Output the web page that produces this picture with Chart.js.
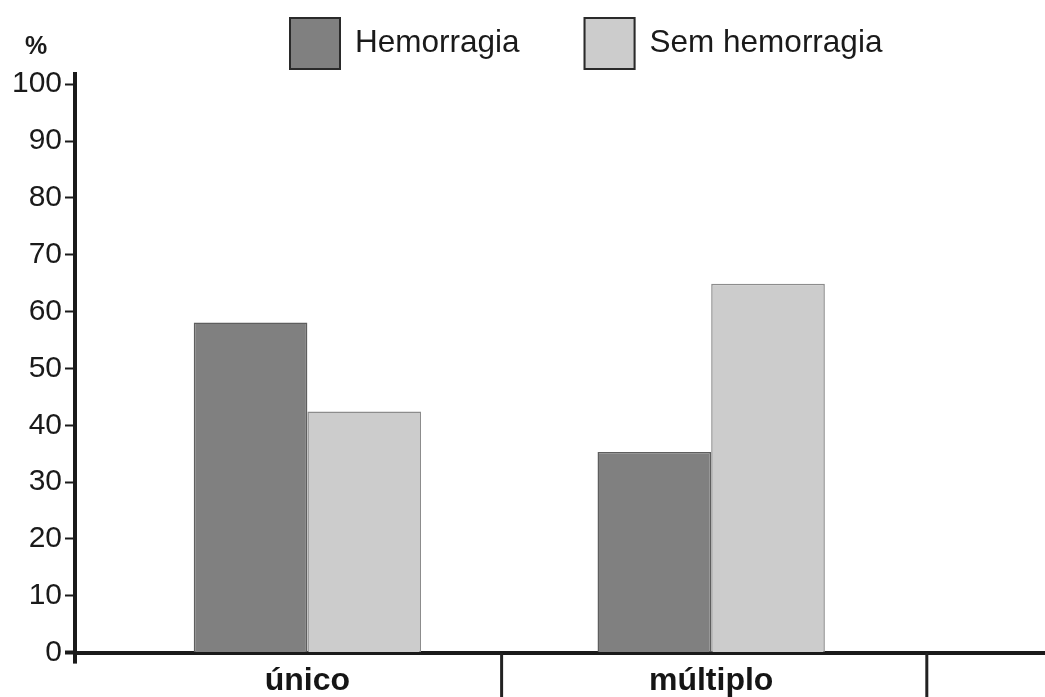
<!DOCTYPE html>
<html>
<head>
<meta charset="utf-8">
<script src="https://cdn.jsdelivr.net/npm/chart.js@4.4.1/dist/chart.umd.min.js"></script>
<style>
  html, body { margin: 0; padding: 0; background: #ffffff; }
  #wrap { width: 1045px; height: 697px; }
</style>
</head>
<body>
<div id="wrap"><canvas id="c" width="1045" height="697"></canvas></div>
<script>
// ---- data ----
const categories = ['único', 'múltiplo'];
const seriesNames = ['Hemorragia', 'Sem hemorragia'];
const hemorragia = [58.1, 35.3];
const semHemorragia = [42.4, 64.9];
const yTickValues = [0, 10, 20, 30, 40, 50, 60, 70, 80, 90, 100];
const yAxisUnit = '%';
// category group boundaries (in category-index units)
const categoryDividers = [1.481, 2.534];

const FONT = "'Liberation Sans', Arial, Helvetica, sans-serif";

const seriesStyle = [
  { fill: '#808080', border: '#5e5e5e' },
  { fill: '#cccccc', border: '#8c8c8c' }
];

const toPoints = arr => arr.map((v, i) => ({ x: i + 1, y: v }));

const decorPlugin = {
  id: 'decor',
  afterDraw(chart) {
    const ctx = chart.ctx;
    const xs = chart.scales.x;
    const area = chart.chartArea;
    ctx.save();
    // category dividers below the axis
    ctx.strokeStyle = '#222222';
    ctx.lineWidth = 3;
    categoryDividers.forEach(d => {
      const px = xs.getPixelForValue(d);
      ctx.beginPath();
      ctx.moveTo(px, area.bottom);
      ctx.lineTo(px, chart.height);
      ctx.stroke();
    });
    // y-axis stub below origin
    ctx.lineWidth = 4;
    ctx.strokeStyle = '#1a1a1a';
    ctx.beginPath();
    ctx.moveTo(area.left, area.bottom);
    ctx.lineTo(area.left, area.bottom + 11);
    ctx.stroke();

    // unit label
    ctx.fillStyle = '#1a1a1a';
    ctx.font = "bold 25px " + FONT;
    ctx.textBaseline = 'alphabetic';
    ctx.textAlign = 'left';
    ctx.fillText(yAxisUnit, 25, 54);

    // legend
    ctx.font = "31.5px " + FONT;
    let x = 289;
    const boxTop = 17, boxW = 52, boxH = 53;
    chart.data.datasets.forEach((ds, i) => {
      ctx.fillStyle = ds.backgroundColor;
      ctx.fillRect(x, boxTop, boxW, boxH);
      ctx.strokeStyle = '#2a2a2a';
      ctx.lineWidth = 2;
      ctx.strokeRect(x + 1, boxTop + 1, boxW - 2, boxH - 2);
      const tx = x + boxW + 14;
      ctx.fillStyle = '#1a1a1a';
      ctx.fillText(ds.label, tx, 52);
      x = tx + ctx.measureText(ds.label).width + 64;
    });
    ctx.restore();
  }
};

new Chart(document.getElementById('c'), {
  type: 'bar',
  data: {
    datasets: [
      {
        label: seriesNames[0],
        data: toPoints(hemorragia),
        backgroundColor: seriesStyle[0].fill,
        borderColor: seriesStyle[0].border,
        borderWidth: 1.5
      },
      {
        label: seriesNames[1],
        data: toPoints(semHemorragia),
        backgroundColor: seriesStyle[1].fill,
        borderColor: seriesStyle[1].border,
        borderWidth: 1.5
      }
    ]
  },
  options: {
    responsive: false,
    animation: false,
    devicePixelRatio: 1,
    categoryPercentage: 0.563,
    barPercentage: 1,
    layout: { padding: { top: 74, left: 0, right: 0, bottom: 0 } },
    plugins: {
      legend: { display: false },
      tooltip: { enabled: false }
    },
    scales: {
      x: {
        type: 'linear',
        offset: false,
        min: 0.4245,
        max: 2.8267,
        afterBuildTicks: axis => { axis.ticks = categories.map((c, i) => ({ value: i + 1 })); },
        afterFit: axis => { axis.height = 44.4; },
        grid: { display: false, drawTicks: false },
        border: { display: true, color: '#1a1a1a', width: 4 },
        ticks: {
          padding: 9,
          color: '#151515',
          font: { family: FONT, size: 32, weight: 'bold' },
          callback: v => categories[Math.round(v) - 1] || ''
        }
      },
      y: {
        min: 0,
        max: 101.8,
        afterBuildTicks: axis => { axis.ticks = yTickValues.map(v => ({ value: v })); },
        afterFit: axis => { axis.width = 75; },
        grid: {
          display: true,
          drawOnChartArea: false,
          drawTicks: true,
          tickLength: 10,
          tickColor: '#1a1a1a',
          tickWidth: ctx => (ctx.tick && ctx.tick.value === 0 ? 4 : 2)
        },
        border: { display: true, color: '#1a1a1a', width: 4 },
        ticks: {
          padding: 3,
          color: '#1a1a1a',
          font: { family: FONT, size: 30 }
        }
      }
    }
  },
  plugins: [decorPlugin]
});
</script>
</body>
</html>
